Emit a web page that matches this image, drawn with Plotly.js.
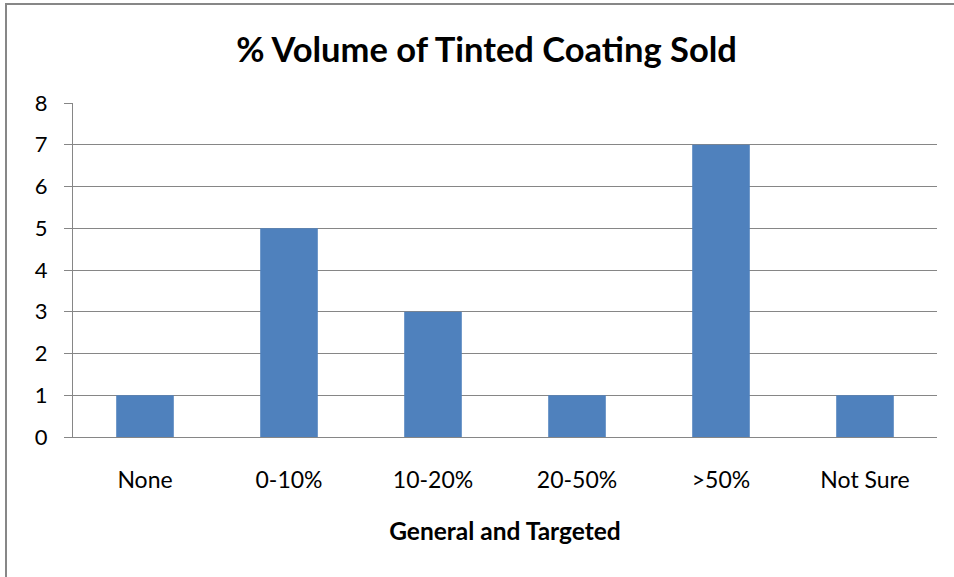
<!DOCTYPE html>
<html>
<head>
<meta charset="utf-8">
<script src="https://cdn.plot.ly/plotly-3.0.1.min.js"></script>
<style>
html,body{margin:0;padding:0;background:#fff;overflow:hidden;}
#chart{width:954px;height:577px;position:absolute;left:0;top:0;}
#frame{position:absolute;left:5px;top:3px;width:960px;height:590px;border-left:2px solid #878787;border-top:2px solid #878787;pointer-events:none;}
</style>
</head>
<body>
<div id="chart"></div>
<div id="frame"></div>
<script>
const categories = ["None", "0-10%", "10-20%", "20-50%", ">50%", "Not Sure"];
const counts = [1, 5, 3, 1, 7, 1];
const yTicks = [0, 1, 2, 3, 4, 5, 6, 7, 8];

const FONT = "Lato, 'Open Sans', sans-serif";

Plotly.newPlot('chart', [{
  type: 'bar',
  x: categories,
  y: counts,
  marker: {color: '#4F81BD'},
  hoverinfo: 'x+y'
}], {
  width: 954, height: 577,
  margin: {l: 73, r: 17, t: 103, b: 140},
  paper_bgcolor: '#fff', plot_bgcolor: '#fff',
  bargap: 0.6,
  showlegend: false,
  title: {
    text: '<b>% Volume of Tinted Coating Sold</b>',
    font: {family: FONT, size: 34.5, color: '#000'},
    x: 0.51, xref: 'container', xanchor: 'center',
    y: 1 - 50/577, yref: 'container', yanchor: 'middle'
  },
  xaxis: {
    type: 'category',
    showgrid: false,
    showline: true, linecolor: '#868686', linewidth: 1,
    ticks: '', ticklabelstandoff: 22,
    tickfont: {family: FONT, size: 23, color: '#000'},
    title: {text: '<b>General and Targeted</b>', font: {family: FONT, size: 24.5, color: '#000'}, standoff: 31},
    fixedrange: true
  },
  yaxis: {
    range: [0, 8],
    tickvals: yTicks,
    showgrid: true, gridcolor: '#868686', gridwidth: 1,
    showline: true, linecolor: '#868686', linewidth: 1,
    zeroline: false,
    ticks: 'outside', ticklen: 8, tickcolor: '#868686', tickwidth: 1,
    ticklabelstandoff: 12,
    tickfont: {family: FONT, size: 22, color: '#000'},
    fixedrange: true
  }
}, {displayModeBar: false, staticPlot: true});
</script>
</body>
</html>
